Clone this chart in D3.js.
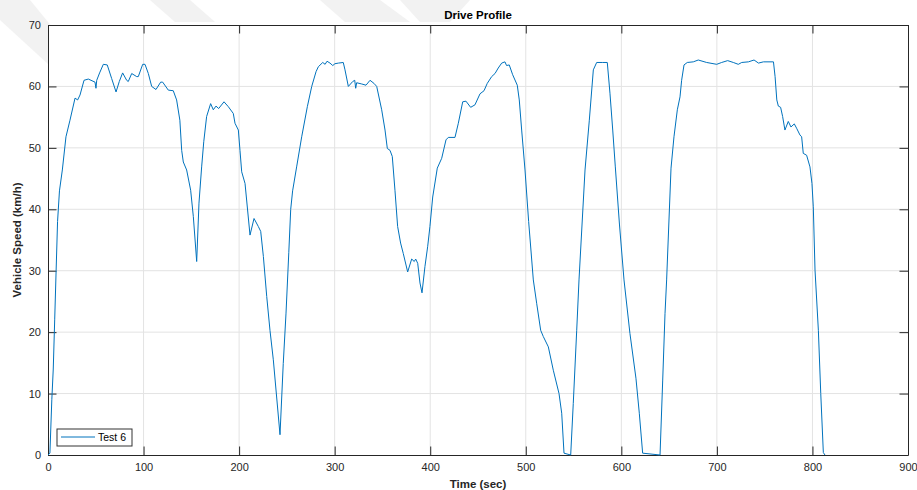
<!DOCTYPE html>
<html>
<head>
<meta charset="utf-8">
<script src="https://cdn.jsdelivr.net/npm/d3@7/dist/d3.min.js"></script>
<style>
  html, body { margin: 0; padding: 0; background: #fff; }
  svg { display: block; font-family: "Liberation Sans", Arial, Helvetica, sans-serif; }
</style>
</head>
<body>
<svg id="chart" width="917" height="490"></svg>
<script>
// Drive cycle: time stamps (s) and vehicle speed (km/h)
const timeSec = [
  0, 2, 4, 5.5, 7, 8.5, 10, 12, 15, 18.8, 23, 28.3, 31, 33.5, 37.7, 42.2, 49.2, 50.2, 51, 54,
  57.9, 62, 66.6, 71.2, 74.6, 78.1, 82.3, 84, 87.6, 92.8, 94.5, 99.1, 101.5, 105, 108.5, 113,
  117.9, 120, 125.9, 131.1, 134.6, 138, 139.9, 141.6, 145.1, 149.3, 152.1, 155.6, 158, 160.8,
  163, 166, 170.2, 173, 175.8, 178.6, 184.2, 188.7, 193.9, 195.7, 199.2, 200.9, 202.7, 206.2,
  211.4, 215.6, 220.1, 222.6, 225.4, 228.9, 232.3, 235.8, 242.8, 246.2, 249.1, 252, 254, 256,
  260.2, 265.5, 271.4, 276, 280.5, 282.9, 287.5, 290, 292, 295.1, 298, 300.3, 304, 309, 310.8,
  314.3, 318.9, 321, 322, 323, 328.3, 332.8, 337, 341.1, 344, 349.2, 352.7, 355.1, 357.9, 360.3,
  363.1, 365.9, 369, 371.8, 376.4, 380.6, 383.3, 384.8, 386.9, 389.3, 391.4, 394.5, 397.3, 399.7,
  402.6, 407.4, 412, 416.5, 418.9, 425.9, 429.4, 434, 437.4, 442.3, 446.8, 452.1, 456.3, 459.7,
  464.3, 467.8, 471.2, 474.8, 478.2, 479.9, 482.7, 486.3, 491.1, 493.2, 495.7, 499.2, 503, 507.9,
  511.4, 515.6, 518.3, 523.6, 528.8, 534.8, 537.6, 540, 547, 549.7, 553.3, 555.7, 562, 566.5,
  570.7, 574.2, 580, 585.3, 588.1, 591, 593.7, 598, 602.8, 609, 615.3, 618.8, 622.3, 640.5, 643.3,
  645.7, 647.4, 652, 655.1, 658.6, 661.4, 663.1, 665.6, 669, 675.3, 680.5, 689.3, 699.8, 705,
  711.3, 717.2, 722.4, 726, 733, 738.9, 743.5, 748.7, 759.2, 760.9, 762.7, 764.3, 766.7, 768.8,
  771.2, 774.7, 777.5, 781, 783.4, 786.9, 788.7, 790.4, 793.9, 797.4, 799.5, 800.9, 802.7, 806.2,
  808.7, 811.4, 813.1
];
const speedKmh = [
  0, 0.3, 9, 14, 22, 30, 38, 43, 46.4, 51.8, 54.5, 58.1, 57.8, 58.6, 61.0, 61.2, 60.7, 59.7, 61.0, 62.2,
  63.6, 63.5, 61.3, 59.1, 60.8, 62.2, 61.0, 60.8, 62.1, 61.6, 61.6, 63.6, 63.6, 62.1, 60.0, 59.5,
  60.7, 60.7, 59.4, 59.3, 57.8, 54.5, 49.6, 47.7, 46.4, 43.1, 38.8, 31.5, 41, 46.9,
  51, 55.1, 57.2, 56.2, 56.8, 56.4, 57.5, 56.7, 55.6, 54.0, 52.9, 49.6, 46.1, 44.2,
  35.8, 38.5, 37.2, 36.4, 32.3, 25.8, 20.3, 15.5, 3.3, 14.9, 23.1, 33, 40, 43,
  46.9, 51.8, 56.7, 60, 62.4, 63.2, 63.9, 63.6, 64.1, 63.8, 63.4, 63.7, 63.8, 63.9, 62.7,
  60, 60.8, 61.0, 59.7, 60.6, 60.4, 60.2, 61.0, 60.5, 60, 56.2, 52.9, 49.9, 49.6, 48.6,
  43.1, 37.2, 34.5, 32.8, 29.8, 31.9, 31.5, 31.9, 31.2, 28, 26.4, 30.7, 33.9, 37.2,
  42, 46.7, 48.3, 51.3, 51.7, 51.7, 54, 57.5, 57.6, 56.6, 57, 58.8, 59.3, 60.5,
  61.6, 62.1, 63, 63.8, 64, 63.4, 63.5, 61.9, 60.2, 57.8, 52.9, 46.4, 38, 28.5,
  24.7, 20.3, 19.3, 17.6, 13.8, 10, 6.8, 0.3, 0, 8.4, 20.3, 28.5, 46.4, 54.5,
  62.7, 63.9, 63.9, 63.9, 58.9, 52.9, 46.9, 37.6, 28.5, 19.8, 12.5, 6.8, 0.3, 0, 12.2,
  23, 28.5, 46.7, 51.8, 56.2, 58.3, 61, 63.5, 63.9, 64, 64.3, 63.9, 63.6, 63.9,
  64.2, 63.9, 63.6, 63.9, 64, 64.3, 63.8, 64, 64, 61.6, 57.8, 56.8, 56.6, 55.1,
  52.9, 54.3, 53.4, 53.9, 53.2, 52.1, 51.8, 49.1, 48.8, 46.9, 44.2, 40.4, 30.1, 20.3,
  10.0, 0.4, 0
];
const xTicks = [0, 100, 200, 300, 400, 500, 600, 700, 800, 900];
const yTicks = [0, 10, 20, 30, 40, 50, 60, 70];
const seriesName = "Test 6";

const svg = d3.select("#chart");
const W = 917, H = 490;
const m = { left: 48, right: 9, top: 25, bottom: 35 };
const pw = W - m.left - m.right, ph = H - m.top - m.bottom;
const axisColor = "#262626";

// faint page watermark behind the figure
const wm = svg.append("g").attr("fill", "#f2f2f2");
wm.append("polygon").attr("points", "0,0 30,0 75,55 60,75 0,20");
wm.append("polygon").attr("points", "150,0 190,0 215,22 175,22");
wm.append("polygon").attr("points", "320,0 380,0 410,22 345,22");
wm.append("polygon").attr("points", "400,0 470,0 450,22 420,22");

const x = d3.scaleLinear().domain([0, 900]).range([0, pw]);
const y = d3.scaleLinear().domain([0, 70]).range([ph, 0]);

const g = svg.append("g").attr("transform", `translate(${m.left},${m.top})`);
g.append("rect").attr("width", pw).attr("height", ph).attr("fill", "#fff");

// grid
g.append("g").selectAll("line").data(xTicks.slice(1, -1)).join("line")
  .attr("x1", d => x(d)).attr("x2", d => x(d)).attr("y1", 0).attr("y2", ph)
  .attr("stroke", "#e3e3e3").attr("stroke-width", 1);
g.append("g").selectAll("line").data(yTicks.slice(1, -1)).join("line")
  .attr("y1", d => y(d)).attr("y2", d => y(d)).attr("x1", 0).attr("x2", pw)
  .attr("stroke", "#e3e3e3").attr("stroke-width", 1);

// axes with inward ticks on all four sides
const tk = 8.5;
const styleAxis = sel => {
  sel.select(".domain").attr("stroke", axisColor).attr("stroke-width", 1);
  sel.selectAll(".tick line").attr("stroke", axisColor).attr("stroke-width", 1);
  sel.selectAll(".tick text").attr("fill", axisColor).attr("font-size", 11)
    .attr("font-family", "'Liberation Sans', Arial, sans-serif");
};
g.append("g").attr("transform", `translate(0,${ph})`)
  .call(d3.axisBottom(x).tickValues(xTicks).tickSize(-tk).tickPadding(8).tickSizeOuter(0))
  .call(styleAxis);
g.append("g")
  .call(d3.axisLeft(y).tickValues(yTicks).tickSize(-tk).tickPadding(7).tickSizeOuter(0))
  .call(styleAxis);
g.append("g")
  .call(d3.axisTop(x).tickValues(xTicks).tickSize(-tk).tickFormat("").tickSizeOuter(0))
  .call(styleAxis);
g.append("g").attr("transform", `translate(${pw},0)`)
  .call(d3.axisRight(y).tickValues(yTicks).tickSize(-tk).tickFormat("").tickSizeOuter(0))
  .call(styleAxis);

// speed trace
const data = timeSec.map((t, i) => ({ t, v: speedKmh[i] }));
g.append("path").datum(data)
  .attr("fill", "none").attr("stroke", "#0072BD").attr("stroke-width", 1)
  .attr("stroke-linejoin", "round")
  .attr("d", d3.line().x(d => x(d.t)).y(d => y(d.v)));

// legend
const lg = g.append("g").attr("transform", `translate(${57 - m.left},${429 - m.top})`);
lg.append("rect").attr("width", 75).attr("height", 17)
  .attr("fill", "#fff").attr("stroke", "#333").attr("stroke-width", 1);
lg.append("line").attr("x1", 4).attr("x2", 38).attr("y1", 8).attr("y2", 8)
  .attr("stroke", "#0072BD").attr("stroke-width", 1);
lg.append("text").attr("x", 41).attr("y", 12).attr("font-size", 10.5)
  .attr("fill", "#000").text(seriesName);

// titles
svg.append("text").attr("x", m.left + pw / 2).attr("y", 19).attr("text-anchor", "middle")
  .attr("font-size", 11.5).attr("font-weight", "bold").attr("fill", "#000").text("Drive Profile");
svg.append("text").attr("x", m.left + pw / 2).attr("y", 488).attr("text-anchor", "middle")
  .attr("font-size", 11.5).attr("font-weight", "bold").attr("fill", axisColor).text("Time (sec)");
svg.append("text").attr("transform", `translate(21,${m.top + ph / 2}) rotate(-90)`)
  .attr("text-anchor", "middle").attr("font-size", 11.5).attr("font-weight", "bold")
  .attr("fill", axisColor).text("Vehicle Speed (km/h)");
</script>
</body>
</html>
